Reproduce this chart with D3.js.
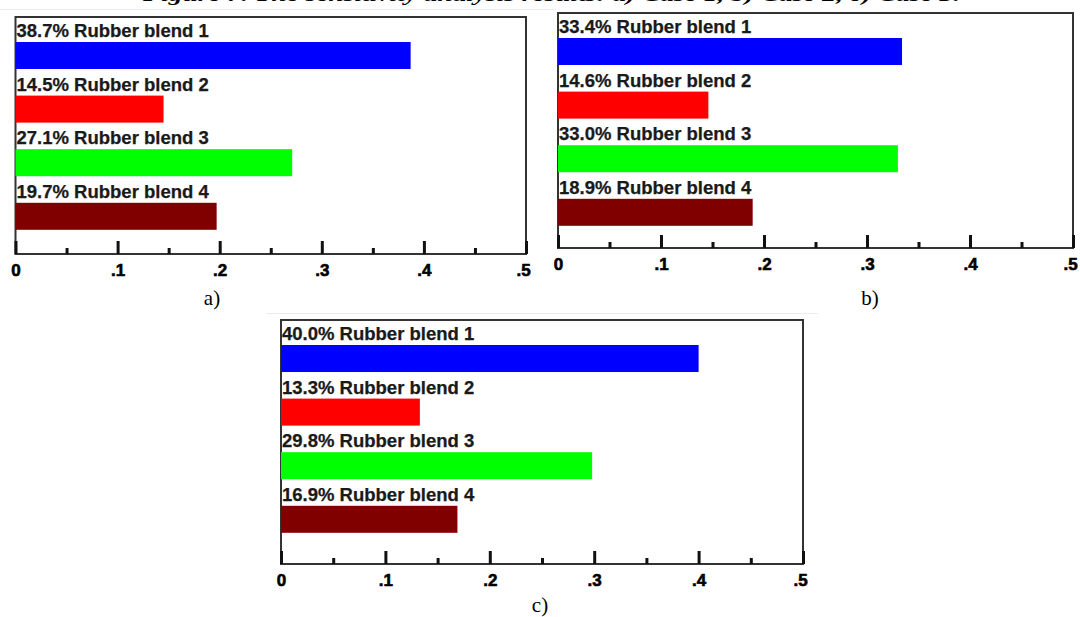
<!DOCTYPE html>
<html>
<head>
<meta charset="utf-8">
<script src="https://cdn.jsdelivr.net/npm/d3@7"></script>
<style>
  html, body { margin: 0; padding: 0; background: #fff; }
  svg { display: block; }
</style>
</head>
<body>
<svg id="chart" width="1080" height="617"></svg>
<script>
// ---- data ----
const categories = ["Rubber blend 1", "Rubber blend 2", "Rubber blend 3", "Rubber blend 4"];
const caseA = [0.387, 0.145, 0.271, 0.197];
const caseB = [0.334, 0.146, 0.330, 0.189];
const caseC = [0.400, 0.133, 0.298, 0.169];
const tickValues = [0, 0.1, 0.2, 0.3, 0.4, 0.5];
const tickLabels = ["0", ".1", ".2", ".3", ".4", ".5"];
const minorTicks = [0.05, 0.15, 0.25, 0.35, 0.45];
const panelLabels = ["a)", "b)", "c)"];
const titleText = "Figure 7. The sensitivity analysis results: a) Case 1, b) Case 2, c) Case 3.";
const barColors = ["#0000ff", "#ff0000", "#00ff00", "#800000"];

// ---- layout ----
const panels = [
  { values: caseA, label: panelLabels[0], x0: 15.5, x1: 526, top: 17, bottom: 254, capX: 212, capY: 305 },
  { values: caseB, label: panelLabels[1], x0: 558, x1: 1073, top: 13, bottom: 248, capX: 870, capY: 305 },
  { values: caseC, label: panelLabels[2], x0: 281, x1: 803, top: 320, bottom: 564, capX: 540, capY: 612 }
];

const svg = d3.select("#chart");

// faint scan lines from the source page
svg.append("line").attr("x1", 0).attr("x2", 556).attr("y1", 9.5).attr("y2", 9.5)
  .attr("stroke", "#ececec").attr("stroke-width", 1);
svg.append("line").attr("x1", 267).attr("x2", 818).attr("y1", 313.5).attr("y2", 313.5)
  .attr("stroke", "#ececec").attr("stroke-width", 1);

// clipped figure caption at top
svg.append("text")
  .attr("x", 143).attr("y", 0.5)
  .attr("textLength", 817).attr("lengthAdjust", "spacingAndGlyphs")
  .style("font-family", "'Liberation Serif', 'Times New Roman', serif")
  .style("font-weight", "bold").style("font-style", "italic")
  .style("font-size", "19px").attr("fill", "#000")
  .text(titleText);

panels.forEach(p => {
  const g = svg.append("g");
  const x = d3.scaleLinear().domain([0, 0.5]).range([p.x0, p.x1]);
  const y = d3.scaleBand().domain(categories).range([p.top, p.top + 4 * 53.6]);

  // frame
  g.append("rect")
    .attr("x", p.x0).attr("y", p.top)
    .attr("width", p.x1 - p.x0).attr("height", p.bottom - p.top)
    .attr("fill", "#fff").attr("stroke", "#333").attr("stroke-width", 2);

  const rows = categories.map((c, i) => ({ cat: c, v: p.values[i], color: barColors[i] }));

  // bars
  g.selectAll("rect.bar").data(rows).enter().append("rect")
    .attr("class", "bar")
    .attr("x", x(0))
    .attr("y", d => y(d.cat) + 25)
    .attr("width", d => x(d.v) - x(0))
    .attr("height", 27)
    .attr("fill", d => d.color);

  // labels
  g.selectAll("text.lbl").data(rows).enter().append("text")
    .attr("class", "lbl")
    .attr("x", x(0) + 1)
    .attr("y", d => y(d.cat) + 20)
    .style("font-family", "'Liberation Sans', Arial, sans-serif")
    .style("font-weight", "bold").style("font-size", "18.5px")
    .attr("fill", "#1a1a1a")
    .attr("stroke", "#1a1a1a").attr("stroke-width", 0.25)
    .text(d => (d.v * 100).toFixed(1) + "% " + d.cat);

  // minor ticks
  const minorAxis = d3.axisBottom(x).tickValues(minorTicks).tickSizeInner(-6).tickSizeOuter(0).tickFormat("");
  const ma = g.append("g").attr("transform", `translate(0,${p.bottom})`).call(minorAxis);
  ma.select(".domain").remove();
  ma.selectAll(".tick line").attr("stroke", "#111").attr("stroke-width", 3);

  // major ticks + labels
  const axis = d3.axisBottom(x).tickValues(tickValues)
    .tickSizeInner(-13).tickSizeOuter(0).tickPadding(10)
    .tickFormat((d, i) => tickLabels[i]);
  const ax = g.append("g").attr("transform", `translate(0,${p.bottom})`).call(axis);
  ax.select(".domain").remove();
  ax.selectAll(".tick line").attr("stroke", "#111").attr("stroke-width", 3);
  ax.selectAll(".tick text")
    .style("font-family", "'Liberation Sans', Arial, sans-serif")
    .style("font-weight", "bold").style("font-size", "17px")
    .attr("fill", "#000").attr("stroke", "#000").attr("stroke-width", 0.6);
  ax.selectAll(".tick text").filter((d, i) => i === tickValues.length - 1).attr("dx", -3);

  // panel caption
  svg.append("text")
    .attr("x", p.capX).attr("y", p.capY)
    .attr("text-anchor", "middle")
    .style("font-family", "'Liberation Serif', 'Times New Roman', serif")
    .style("font-size", "21px").attr("fill", "#000")
    .text(p.label);
});
</script>
</body>
</html>
